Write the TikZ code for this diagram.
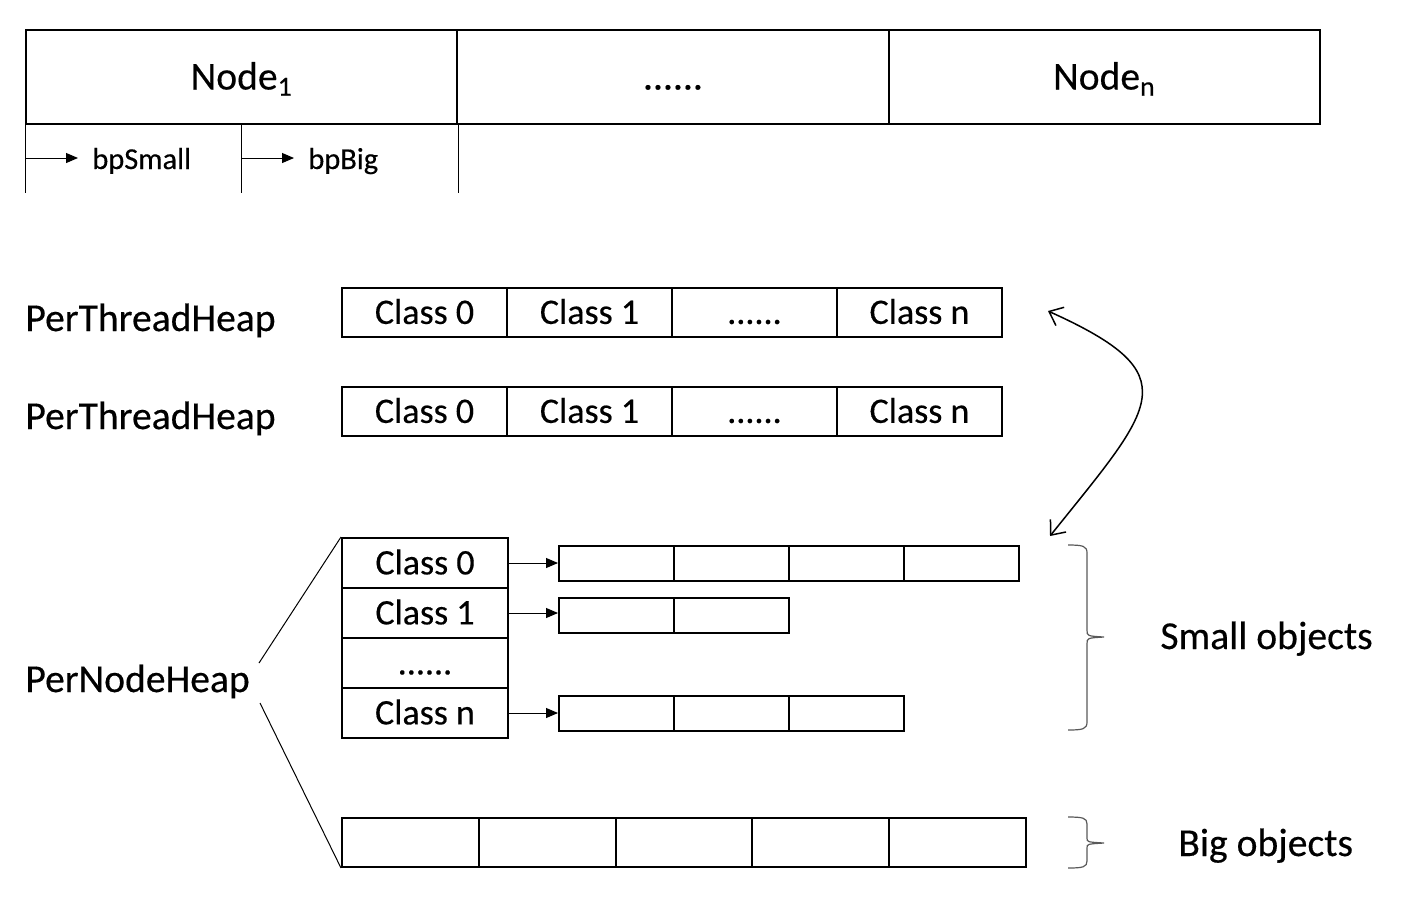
\documentclass[tikz,border=0pt]{standalone}
\usepackage{fontspec}
\setmainfont{Carlito}[FakeBold=0.35]
\usetikzlibrary{arrows.meta}
\definecolor{bracegray}{HTML}{595959}
\newcommand{\sixdots}{......}

\tikzset{
  cell/.style={draw, line width=1pt, inner sep=0pt, anchor=north west,
    text depth=0pt},
  topcell/.style={cell, minimum width=215.7pt, minimum height=47pt,
    text height=12.5pt, font=\fontsize{19.8}{23}\selectfont},
  cls/.style={cell, minimum width=82.5pt, minimum height=24.5pt,
    text height=11.4pt, font=\fontsize{18}{21}\selectfont},
  pncls/.style={cls, minimum width=83pt, minimum height=25pt},
  obj/.style={cell, minimum width=57.5pt, minimum height=17.5pt},
  bigobj/.style={cell, minimum width=68.4pt, minimum height=24.5pt},
  lbl/.style={anchor=base west, inner sep=0pt, font=\fontsize{19.8}{23}\selectfont},
  bp/.style={anchor=west, inner sep=7pt, text height=11pt, text depth=0pt,
    font=\fontsize{15.2}{18}\selectfont},
  ptr/.style={line width=0.5pt, -{Triangle[length=6pt,width=5pt]}},
  brace/.style={bracegray, line width=0.6pt},
}

\begin{document}
\begin{tikzpicture}[x=0.5pt, y=-0.5pt]
\useasboundingbox (0,0) rectangle (1401,923);

% nodes
\node[topcell] (node1) at (25,29) {Node\textsubscript{1}};
\node[topcell] (nodedots) at (456.3,29) {\sixdots};
\node[topcell] (noden) at (887.7,29) {Node\textsubscript{n}};

\draw[line width=0.5pt] (node1.south west) -- ++(0,68);
\draw[line width=0.5pt] (node1.south) -- ++(0,68);
\draw[line width=0.5pt] (node1.south east) -- ++(0,68);

\coordinate (bp1) at (25,158);
\coordinate (bp2) at (241,158);
\node[bp] (bpsmall) at (78,158) {bpSmall};
\node[bp] (bpbig) at (294,158) {bpBig};
\draw[ptr] (bp1) -- (bpsmall.west);
\draw[ptr] (bp2) -- (bpbig.west);

% per thread heaps
\node[lbl] (pth1) at (25,331) {PerThreadHeap};
\node[lbl] (pth2) at (25,429) {PerThreadHeap};
\foreach \t [count=\i from 0] in {Class 0,Class 1,\sixdots,Class n} {
  \node[cls] (ta-\i) at ({341+165*\i},287) {\t};
  \node[cls] (tb-\i) at ({341+165*\i},386) {\t};
}

\coordinate (ctop) at (1048,311);
\coordinate (cbot) at (1050,536);
\draw[line width=0.75pt, {Straight Barb[length=6pt,width=10pt]}-{Straight Barb[length=6pt,width=10pt]}]
  (ctop) .. controls (1190,375) and (1155,405) .. (cbot);

% per node heap
\node[lbl] (pnh) at (25,692) {PerNodeHeap};
\foreach \t [count=\i from 0] in {Class 0,Class 1,\sixdots,Class n}
  \node[pncls] (pn-\i) at (341,{537+50*\i}) {\t};

\foreach \j in {0,...,3} \node[obj] (sa-\j) at ({558+115*\j},545) {};
\foreach \j in {0,1} \node[obj] (sb-\j) at ({558+115*\j},597) {};
\foreach \j in {0,...,2} \node[obj] (sn-\j) at ({558+115*\j},695) {};

\draw[ptr] (pn-0.east) -- (pn-0.east -| sa-0.west);
\draw[ptr] (pn-1.east) -- (pn-1.east -| sb-0.west);
\draw[ptr] (pn-3.east) -- (pn-3.east -| sn-0.west);

\foreach \j in {0,...,4} \node[bigobj] (big-\j) at ({341+136.8*\j},817) {};

\coordinate (pnTop) at (259,663);
\coordinate (pnBot) at (260,703);
\draw[line width=0.5pt] (pnTop) -- (pn-0.north west);
\draw[line width=0.5pt] (pnBot) -- (big-0.south west);

% braces
\draw[brace] (1068,545) .. controls (1083,545) and (1087,546) .. (1087,553)
  -- (1087,630) .. controls (1087,636) .. (1104,637)
  .. controls (1087,638) .. (1087,644) -- (1087,722)
  .. controls (1087,729) and (1083,730) .. (1068,730);
\draw[brace] (1068,817) .. controls (1083,817) and (1087,818) .. (1087,824)
  -- (1087,838) .. controls (1087,842) .. (1104,843)
  .. controls (1087,844) .. (1087,848) -- (1087,861)
  .. controls (1087,867) and (1083,868) .. (1068,868);

\node[lbl] (small) at (1160,649) {Small objects};
\node[lbl] (bigl) at (1178,856) {Big objects};

\end{tikzpicture}
\end{document}
